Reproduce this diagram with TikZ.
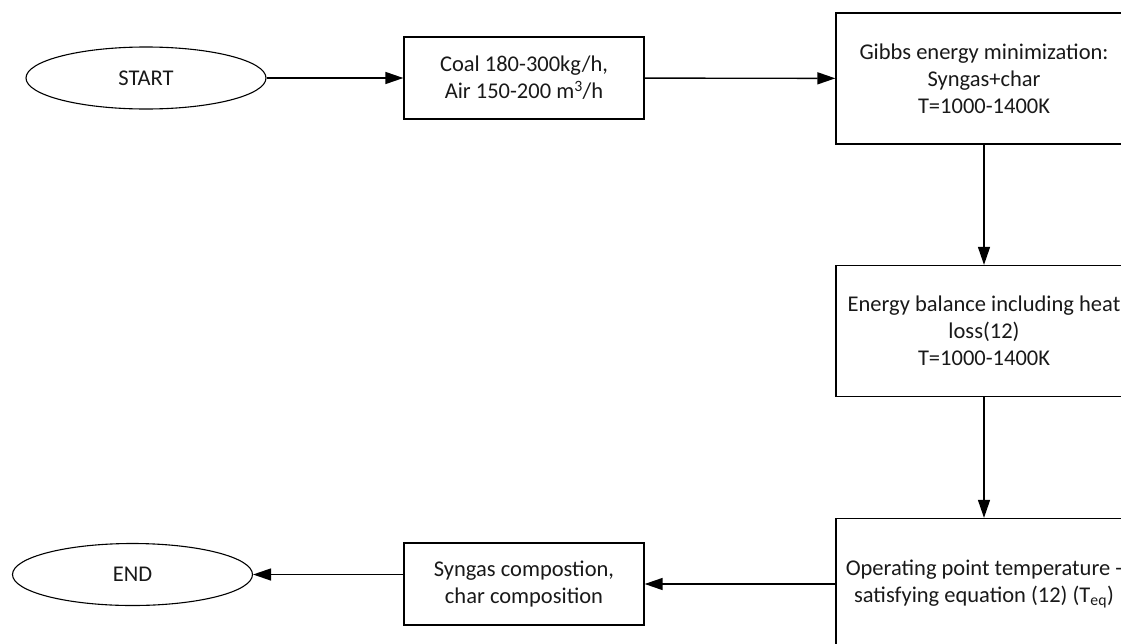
\documentclass[tikz,border=0pt]{standalone}
\usepackage{fontspec}
\setmainfont{Carlito}
\usetikzlibrary{shapes.geometric,arrows.meta}
\begin{document}
\begin{tikzpicture}[x=1pt,y=-1pt,
  every node/.style={font=\fontsize{22.5}{27}\selectfont, text=black!90},
  termnode/.style={ellipse, draw, line width=1.1pt, minimum width=240pt, minimum height=62pt, inner sep=0pt},
  procbox/.style={rectangle, draw, line width=1.3pt, minimum width=240pt, minimum height=82pt, inner sep=0pt, align=center},
  bigbox/.style={rectangle, draw, line width=1.3pt, minimum width=296pt, minimum height=131pt, inner sep=0pt, align=center},
  flow/.style={line width=1.4pt, -{Triangle[length=18pt,width=12pt]}}]
\useasboundingbox (0,0) rectangle (1121,643);
\clip (0,0) rectangle (1121,643);
\node[termnode] (start) at (146,78) {START};
\node[procbox] (coal) at (524,78) {Coal 180-300kg/h,\\Air 150-200 m\textsuperscript{3}/h};
\node[bigbox] (gibbs) at (984,78.5) {Gibbs energy minimization:\\Syngas+char\\T=1000-1400K};
\node[bigbox] (energy) at (984,331) {Energy balance including heat\\loss(12)\\T=1000-1400K};
\node[bigbox] (oper) at (984,584) {Operating point temperature -\\satisfying equation (12) (T\textsubscript{eq})};
\node[procbox] (syn) at (524,584) {Syngas compostion,\\char composition};
\node[termnode] (endn) at (132.5,574.5) {END};
\draw[flow] (start) -- (coal);
\draw[flow] (coal) -- (gibbs);
\draw[flow] (gibbs) -- (energy);
\draw[flow] (energy) -- (oper);
\draw[flow] (oper) -- (syn);
\draw[flow] (syn.west |- endn.east) -- (endn.east);
\end{tikzpicture}
\end{document}
